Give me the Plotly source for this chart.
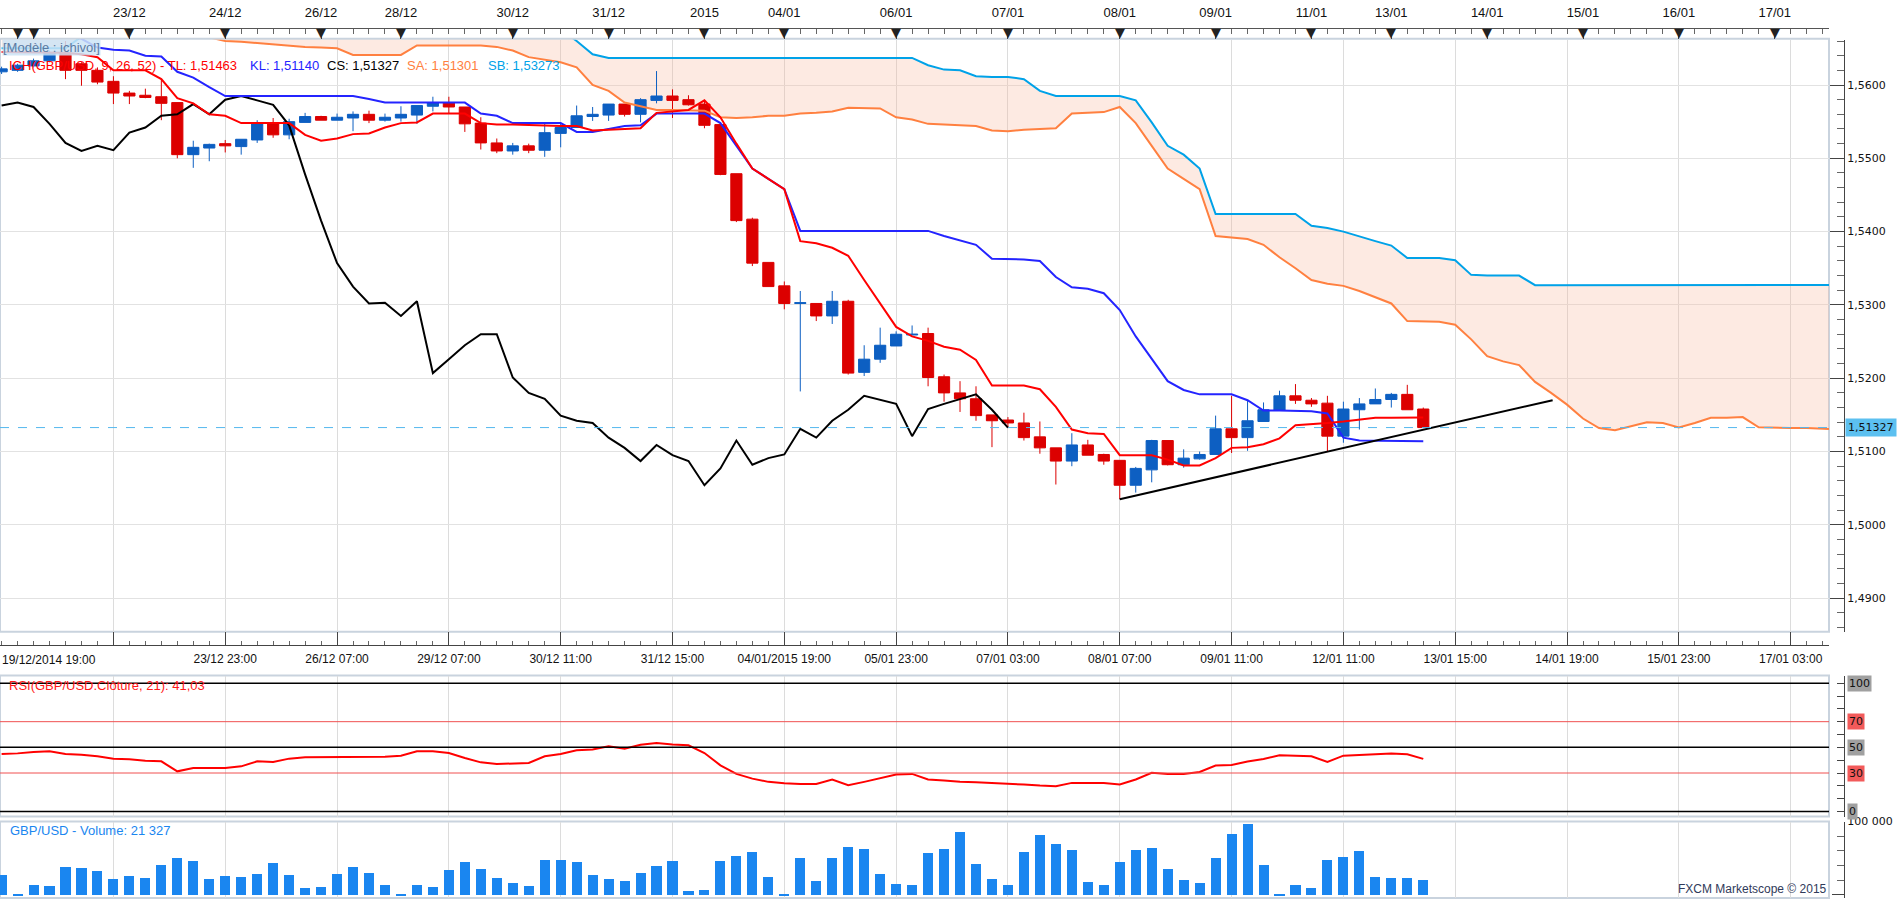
import plotly.graph_objects as go

# GBP/USD 4h bars, bar 0 = 19/12/2014 19:00, last bar = 13/01/2015 ~11:00
opens = [1.5618, 1.5620, 1.5626, 1.5633, 1.5644, 1.5629, 1.5620, 1.5605, 1.5589, 1.5586,
         1.5584, 1.5576, 1.5505, 1.5514, 1.5520, 1.5516, 1.5525, 1.5547, 1.5532, 1.5549,
         1.5557, 1.5552, 1.5555, 1.5560, 1.5552, 1.5555, 1.5559, 1.5571, 1.5576, 1.5570,
         1.5548, 1.5521, 1.5510, 1.5517, 1.5511, 1.5534, 1.5542, 1.5557, 1.5559, 1.5574,
         1.5560, 1.5579, 1.5585, 1.5580, 1.5574, 1.5546, 1.5479, 1.5417, 1.5358, 1.5326,
         1.5302, 1.5302, 1.5285, 1.5305, 1.5208, 1.5226, 1.5244, 1.5259, 1.5261, 1.5202,
         1.5180, 1.5172, 1.5150, 1.5143, 1.5139, 1.5120, 1.5105, 1.5087, 1.5109, 1.5096,
         1.5088, 1.5054, 1.5075, 1.5115, 1.5082, 1.5090, 1.5096, 1.5131, 1.5119, 1.5141,
         1.5156, 1.5176, 1.5170, 1.5166, 1.5121, 1.5157, 1.5165, 1.5171, 1.5178, 1.5158]
highs = [1.5625, 1.5629, 1.5636, 1.5647, 1.5660, 1.5631, 1.5624, 1.5612, 1.5592, 1.5595,
         1.5608, 1.5576, 1.5524, 1.5520, 1.5525, 1.5526, 1.5552, 1.5555, 1.5554, 1.5562,
         1.5558, 1.5561, 1.5564, 1.5565, 1.5561, 1.5571, 1.5572, 1.5584, 1.5584, 1.5570,
         1.5556, 1.5527, 1.5521, 1.5520, 1.5547, 1.5547, 1.5572, 1.5570, 1.5574, 1.5574,
         1.5582, 1.5619, 1.5594, 1.5586, 1.5579, 1.5546, 1.5479, 1.5419, 1.5358, 1.5332,
         1.5319, 1.5302, 1.5319, 1.5307, 1.5245, 1.5269, 1.5264, 1.5272, 1.5269, 1.5205,
         1.5196, 1.5189, 1.5150, 1.5147, 1.5153, 1.5141, 1.5105, 1.5125, 1.5116, 1.5097,
         1.5088, 1.5079, 1.5116, 1.5115, 1.5103, 1.5100, 1.5149, 1.5176, 1.5170, 1.5167,
         1.5183, 1.5192, 1.5173, 1.5176, 1.5168, 1.5173, 1.5186, 1.5180, 1.5191, 1.5160]
lows = [1.5615, 1.5618, 1.5624, 1.5631, 1.5608, 1.5599, 1.5601, 1.5574, 1.5574, 1.5582,
        1.5552, 1.5500, 1.5487, 1.5496, 1.5508, 1.5505, 1.5521, 1.5528, 1.5526, 1.5549,
        1.5552, 1.5552, 1.5537, 1.5548, 1.5550, 1.5550, 1.5547, 1.5564, 1.5561, 1.5536,
        1.5512, 1.5507, 1.5505, 1.5507, 1.5502, 1.5515, 1.5542, 1.5551, 1.5551, 1.5557,
        1.5549, 1.5575, 1.5555, 1.5572, 1.5541, 1.5477, 1.5413, 1.5353, 1.5325, 1.5294,
        1.5182, 1.5278, 1.5274, 1.5205, 1.5203, 1.5221, 1.5244, 1.5259, 1.5189, 1.5168,
        1.5154, 1.5142, 1.5106, 1.5132, 1.5115, 1.5097, 1.5055, 1.5080, 1.5095, 1.5082,
        1.5035, 1.5044, 1.5058, 1.5081, 1.5078, 1.5089, 1.5096, 1.5098, 1.5101, 1.5141,
        1.5156, 1.5165, 1.5161, 1.5100, 1.5112, 1.5130, 1.5165, 1.5160, 1.5157, 1.5132]
closes = [1.5622, 1.5627, 1.5633, 1.5644, 1.5620, 1.5620, 1.5604, 1.5589, 1.5585, 1.5583,
          1.5575, 1.5505, 1.5515, 1.5519, 1.5517, 1.5526, 1.5547, 1.5532, 1.5550, 1.5557,
          1.5552, 1.5556, 1.5560, 1.5552, 1.5556, 1.5560, 1.5572, 1.5576, 1.5570, 1.5547,
          1.5521, 1.5510, 1.5517, 1.5511, 1.5535, 1.5542, 1.5558, 1.5560, 1.5574, 1.5560,
          1.5580, 1.5585, 1.5579, 1.5573, 1.5545, 1.5478, 1.5415, 1.5357, 1.5325, 1.5302,
          1.5303, 1.5285, 1.5305, 1.5207, 1.5226, 1.5245, 1.5260, 1.5260, 1.5201, 1.5180,
          1.5172, 1.5149, 1.5142, 1.5139, 1.5119, 1.5105, 1.5087, 1.5109, 1.5095, 1.5087,
          1.5054, 1.5077, 1.5115, 1.5082, 1.5091, 1.5096, 1.5131, 1.5119, 1.5142, 1.5157,
          1.5176, 1.5170, 1.5165, 1.5121, 1.5158, 1.5165, 1.5171, 1.5178, 1.5157, 1.51327]

# ichimoku lines (tenkan = TL, kijun = KL)
tenkan = [1.5645, 1.5645, 1.5645, 1.5645, 1.5644, 1.5642, 1.5638, 1.5620, 1.5620, 1.5620,
          1.5608, 1.5582, 1.5575, 1.5560, 1.5558, 1.5548, 1.5548, 1.5548, 1.5548, 1.5532,
          1.5524, 1.5527, 1.5533, 1.5534, 1.5542, 1.5548, 1.5549, 1.5561, 1.5561, 1.5561,
          1.5548, 1.5546, 1.5546, 1.5545, 1.5545, 1.5544, 1.5544, 1.5538, 1.5539, 1.5540,
          1.5541, 1.5562, 1.5564, 1.5566, 1.5579, 1.5556, 1.5520, 1.5486, 1.5472, 1.5458,
          1.5387, 1.5384, 1.5378, 1.5367, 1.5334, 1.5302, 1.5270, 1.5257, 1.5251, 1.5243,
          1.5239, 1.5225, 1.5190, 1.5190, 1.5190, 1.5185, 1.5161, 1.5130, 1.5125, 1.5124,
          1.5095, 1.5095, 1.5095, 1.5089, 1.5081, 1.5081, 1.5091, 1.5105, 1.5106, 1.5110,
          1.5118, 1.5136, 1.5137, 1.5139, 1.5141, 1.5143, 1.5146, 1.5146, 1.5146, 1.51463]
kijun = [1.5668, 1.5668, 1.5668, 1.5668, 1.5668, 1.5663, 1.5651, 1.5648, 1.5647, 1.5640,
         1.5639, 1.5618, 1.5610, 1.5597, 1.5585, 1.5585, 1.5585, 1.5585, 1.5585, 1.5585,
         1.5585, 1.5585, 1.5585, 1.5581, 1.5576, 1.5576, 1.5576, 1.5576, 1.5576, 1.5576,
         1.5561, 1.5558, 1.5548, 1.5548, 1.5548, 1.5548, 1.5536, 1.5536, 1.5540, 1.5544,
         1.5545, 1.5561, 1.5561, 1.5561, 1.5561, 1.5548, 1.5517, 1.5486, 1.5472, 1.5458,
         1.5401, 1.5401, 1.5401, 1.5401, 1.5401, 1.5401, 1.5401, 1.5401, 1.5401, 1.5394,
         1.5388, 1.5382, 1.5363, 1.5363, 1.5362, 1.5360, 1.5338, 1.5324, 1.5322, 1.5316,
         1.5293, 1.5257, 1.5227, 1.5196, 1.5184, 1.5178, 1.5178, 1.5178, 1.5170, 1.5156,
         1.5156, 1.5156, 1.5155, 1.5152, 1.5119, 1.5115, 1.5115, 1.5115, 1.5115, 1.5114]
# senkou spans, projected 26 bars ahead (bars 0..115)
senkou_a = [1.5675, 1.5675, 1.5675, 1.5675, 1.5675, 1.5675, 1.5675, 1.5675, 1.5675, 1.5675,
            1.5675, 1.5675, 1.5675, 1.5665, 1.5660, 1.5659, 1.5657, 1.5655, 1.5654, 1.5652,
            1.5651, 1.5650, 1.5641, 1.5641, 1.5641, 1.5641, 1.5654, 1.5654, 1.5654, 1.5654,
            1.5654, 1.5652, 1.5647, 1.5638, 1.5634, 1.5631, 1.5624, 1.5600, 1.5592, 1.5576,
            1.5571, 1.5566, 1.5566, 1.5566, 1.5565, 1.5556, 1.5555, 1.5556, 1.5558, 1.5558,
            1.5561, 1.5562, 1.5564, 1.5569, 1.5569, 1.5568, 1.5556, 1.5553, 1.5547, 1.5546,
            1.5546, 1.5544, 1.5538, 1.5537, 1.5539, 1.5540, 1.5541, 1.5561, 1.5562, 1.5563,
            1.5570, 1.5548, 1.5517, 1.5486, 1.5472, 1.5458, 1.5394, 1.5392, 1.5390, 1.5382,
            1.5365, 1.5350, 1.5334, 1.5329, 1.5326, 1.5319, 1.5311, 1.5302, 1.5278, 1.5277,
            1.5277, 1.5273, 1.5253, 1.5230, 1.5223, 1.5218, 1.5195, 1.5180, 1.5164, 1.5145,
            1.5132, 1.5129, 1.5135, 1.5140, 1.5139, 1.5133, 1.5139, 1.5146, 1.5146, 1.5147,
            1.5133, 1.5132, 1.5132, 1.5132, 1.5131, 1.51301]
senkou_b = [1.5650, 1.5650, 1.5650, 1.5650, 1.5650, 1.5666, 1.5676, 1.5676, 1.5676, 1.5676,
            1.5676, 1.5676, 1.5676, 1.5676, 1.5676, 1.5676, 1.5676, 1.5676, 1.5676, 1.5676,
            1.5676, 1.5676, 1.5676, 1.5676, 1.5676, 1.5676, 1.5676, 1.5676, 1.5676, 1.5676,
            1.5676, 1.5676, 1.5676, 1.5676, 1.5676, 1.5676, 1.5660, 1.5642, 1.5637, 1.5637,
            1.5637, 1.5637, 1.5637, 1.5637, 1.5637, 1.5637, 1.5637, 1.5637, 1.5637, 1.5637,
            1.5637, 1.5637, 1.5637, 1.5637, 1.5637, 1.5637, 1.5637, 1.5637, 1.5627, 1.5621,
            1.5620, 1.5612, 1.5611, 1.5611, 1.5608, 1.5592, 1.5585, 1.5585, 1.5585, 1.5585,
            1.5585, 1.5579, 1.5549, 1.5517, 1.5505, 1.5486, 1.5424, 1.5424, 1.5424, 1.5424,
            1.5424, 1.5424, 1.5408, 1.5405, 1.5400, 1.5393, 1.5387, 1.5381, 1.5364, 1.5364,
            1.5364, 1.5361, 1.5341, 1.5340, 1.5340, 1.5340, 1.5327, 1.5327, 1.5327, 1.5327,
            1.5327, 1.5327, 1.5327, 1.5327, 1.5327, 1.5327, 1.5327, 1.5327, 1.5327, 1.5327,
            1.5327, 1.5327, 1.5327, 1.5327, 1.5327, 1.53273]

rsi = [44.8, 45.3, 46.4, 46.9, 44.8, 44.3, 43.0, 41.2, 40.7, 39.6,
       39.1, 31.3, 33.9, 33.9, 33.9, 35.2, 39.1, 38.6, 41.2, 42.2,
       42.2, 42.7, 42.7, 42.2, 42.7, 43.5, 46.9, 46.9, 45.6, 41.7,
       38.3, 37.0, 37.6, 37.8, 43.0, 44.8, 47.7, 48.4, 50.8, 49.0,
       52.1, 53.4, 52.3, 51.6, 45.6, 36.0, 29.3, 25.6, 23.1, 22.0,
       21.5, 21.5, 24.9, 20.5, 23.1, 26.2, 28.8, 29.3, 24.9, 24.1,
       23.1, 22.8, 22.3, 21.5, 21.0, 20.2, 19.7, 22.3, 22.3, 22.3,
       21.0, 24.9, 30.1, 29.3, 29.3, 30.8, 35.8, 36.3, 38.9, 40.9,
       43.8, 43.5, 43.0, 38.6, 43.5, 44.0, 44.8, 45.3, 44.6, 41.03]

volume = [28400, 1000, 14400, 13000, 38100, 36700, 32600, 22800, 27000, 24200,
          40900, 50700, 46500, 22800, 27000, 25600, 29800, 43700, 28400, 10200,
          11600, 29800, 38100, 31200, 14400, 1000, 14400, 11600, 34000, 45100,
          35300, 24200, 17200, 13000, 47900, 47900, 45100, 28400, 22800, 20000,
          31200, 39500, 46500, 6000, 7400, 46500, 53500, 59100, 25600, 1500,
          50700, 20000, 50700, 66000, 63300, 29800, 15800, 14400, 57700, 63300,
          87000, 42300, 22800, 14400, 59100, 82800, 70200, 61900, 18600, 14400,
          45100, 61900, 64700, 35300, 21400, 17200, 50700, 84200, 96700, 40900,
          1000, 14400, 10200, 47900, 52100, 60500, 25600, 24200, 24200, 21327]

# hand drawn support line (bar, price)
trend_x = [70, 97.1]
trend_y = [1.5035, 1.5170]

# time axis labels
bottom_ticks = [7, 14, 21, 28, 35, 42, 49, 56, 63, 70, 77, 84, 91, 98, 105, 112]
bottom_labels = ['', '23/12 23:00', '26/12 07:00', '29/12 07:00', '30/12 11:00', '31/12 15:00',
                 '04/01/2015 19:00', '05/01 23:00', '07/01 03:00', '08/01 07:00', '09/01 11:00',
                 '12/01 11:00', '13/01 15:00', '14/01 19:00', '15/01 23:00', '17/01 03:00']
day_ticks = [1, 2, 8, 14, 20, 25, 32, 38, 44, 49, 56, 63, 70, 76, 82, 87, 93, 99, 105, 111]
day_labels = ['', '', '23/12', '24/12', '26/12', '28/12', '30/12', '31/12', '2015', '04/01',
              '06/01', '07/01', '08/01', '09/01', '11/01', '13/01', '14/01', '15/01', '16/01', '17/01']

last_price = closes[-1]
bars = list(range(len(closes)))
ahead = list(range(len(senkou_a)))

W, H = 1903, 900
xr = [-0.1, 114.4]
xdom = [0, 1829 / W]
axis_pos = 1844 / W
main_rng = [1.48541, 1.56617]
rsi_rng = [-3.95, 106.0]
vol_rng = [-4200, 100000]

def py(px):  # pixel from top -> paper y
    return 1 - px / H

font = 'Liberation Sans, Arial, sans-serif'
axfont = 'DejaVu Sans, Verdana, sans-serif'

fig = go.Figure()

# cloud
fig.add_trace(go.Scatter(x=ahead, y=senkou_b, mode='lines', line=dict(width=0),
                         hoverinfo='skip', xaxis='x', yaxis='y'))
fig.add_trace(go.Scatter(x=ahead, y=senkou_a, mode='lines', line=dict(width=0), fill='tonexty',
                         fillcolor='rgba(248,185,160,0.30)', hoverinfo='skip', xaxis='x', yaxis='y'))

# candles + lines on overlay axis so they sit on top of the cloud
fig.add_trace(go.Candlestick(x=bars, open=opens, high=highs, low=lows, close=closes,
                             increasing=dict(line=dict(color='#0d5fc2', width=1), fillcolor='#0d5fc2'),
                             decreasing=dict(line=dict(color='#dc0000', width=1), fillcolor='#dc0000'),
                             whiskerwidth=0, xaxis='x', yaxis='y5'))
fig.add_trace(go.Scatter(x=ahead, y=senkou_a, mode='lines', line=dict(color='#ff8040', width=2),
                         xaxis='x', yaxis='y5'))
fig.add_trace(go.Scatter(x=ahead, y=senkou_b, mode='lines', line=dict(color='#00a2e8', width=2),
                         xaxis='x', yaxis='y5'))
fig.add_trace(go.Scatter(x=bars[:len(closes) - 26], y=closes[26:], mode='lines',
                         line=dict(color='#000000', width=2), xaxis='x', yaxis='y5'))
fig.add_trace(go.Scatter(x=bars, y=kijun, mode='lines', line=dict(color='#2424ff', width=2),
                         xaxis='x', yaxis='y5'))
fig.add_trace(go.Scatter(x=bars, y=tenkan, mode='lines', line=dict(color='#ff0000', width=2),
                         xaxis='x', yaxis='y5'))
fig.add_trace(go.Scatter(x=trend_x, y=trend_y, mode='lines', line=dict(color='#000000', width=2),
                         xaxis='x', yaxis='y5'))

# keeps the top date axis alive
fig.add_trace(go.Scatter(x=day_ticks, y=[None] * len(day_ticks), mode='markers',
                         hoverinfo='skip', xaxis='x2', yaxis='y'))

# RSI
fig.add_trace(go.Scatter(x=bars, y=rsi, mode='lines', line=dict(color='#ff0000', width=2),
                         xaxis='x', yaxis='y3'))

# volume
fig.add_trace(go.Bar(x=bars, y=volume, width=0.63, marker=dict(color='#1a86f0', line=dict(width=0)),
                     xaxis='x', yaxis='y4'))

shapes = []
# panel frames
for top, bot in [(33, 630), (674, 816), (821, 898)]:
    shapes.append(dict(type='rect', xref='paper', yref='paper', x0=0, x1=xdom[1], y0=py(bot), y1=py(top),
                       line=dict(color='#c9d3de', width=2), layer='below'))
# RSI levels
for lvl, col in [(100, '#000000'), (70, '#f05050'), (50, '#000000'), (30, '#f05050'), (0, '#000000')]:
    shapes.append(dict(type='line', xref='paper', yref='y3', x0=0, x1=xdom[1], y0=lvl, y1=lvl,
                       line=dict(color=col, width=1.5 if col == '#000000' else 1)))
# last price
shapes.append(dict(type='line', xref='paper', yref='y', x0=0, x1=xdom[1], y0=last_price, y1=last_price,
                   line=dict(color='#55b8ee', width=1, dash='dash'), layer='above'))

ann = []
# day markers on the top axis
for d in day_ticks:
    ann.append(dict(text='▼', x=d, y=py(26.5), xref='x', yref='paper', xanchor='center',
                    yanchor='middle', showarrow=False,
                    font=dict(family=axfont, size=13, color='#222222')))
ann.append(dict(text='[Modèle : ichivol]', x=0.001, y=py(42), xref='paper', yref='paper',
                xanchor='left', yanchor='middle', showarrow=False, bgcolor='rgba(205,228,246,0.85)',
                font=dict(family=font, size=13, color='#5b7aa2'), borderpad=0))
for txt, xpx, col in [('ICH(GBP/USD, 9, 26, 52) - TL: 1,51463', 7, '#ff0000'),
                      ('KL: 1,51140', 248, '#2424ff'), ('CS: 1,51327', 325, '#000000'),
                      ('SA: 1,51301', 405, '#ff8040'), ('SB: 1,53273', 486, '#00a2e8')]:
    ann.append(dict(text=txt, x=xpx / W, y=py(60), xref='paper', yref='paper', xanchor='left',
                    yanchor='middle', showarrow=False, font=dict(family=font, size=13, color=col)))
ann.append(dict(text='19/12/2014 19:00', x=0, y=py(658), xref='paper', yref='paper', xanchor='left',
                yanchor='middle', showarrow=False, font=dict(family=font, size=12, color='#111111')))
ann.append(dict(text='RSI(GBP/USD.Clôture, 21): 41,03', x=7 / W, y=py(684), xref='paper', yref='paper',
                xanchor='left', yanchor='middle', showarrow=False,
                font=dict(family=font, size=13, color='#ff1a1a')))
ann.append(dict(text='GBP/USD - Volume: 21 327', x=8 / W, y=py(830), xref='paper', yref='paper',
                xanchor='left', yanchor='middle', showarrow=False,
                font=dict(family=font, size=13, color='#1a86f0')))
ann.append(dict(text='FXCM Marketscope © 2015', x=xdom[1], y=py(889), xref='paper', yref='paper',
                xanchor='right', yanchor='middle', showarrow=False,
                font=dict(family=font, size=12, color='#303a5a')))
ann.append(dict(text='1,51327', x=1845 / W, y=last_price, xref='paper', yref='y', xanchor='left',
                yanchor='middle', showarrow=False, bgcolor='#5cc0f0', borderpad=2,
                font=dict(family=axfont, size=11, color='#111111')))
for lvl, bg in [(100, '#a0a0a0'), (70, '#f25a5a'), (50, '#a0a0a0'), (30, '#f25a5a'), (0, '#a0a0a0')]:
    ann.append(dict(text=str(lvl), x=1847 / W, y=lvl, xref='paper', yref='y3', xanchor='left',
                    yanchor='middle', showarrow=False, bgcolor=bg, borderpad=1,
                    font=dict(family=axfont, size=11, color='#111111')))

fig.update_layout(
    width=W, height=H, margin=dict(l=0, r=0, t=0, b=0),
    paper_bgcolor='white', plot_bgcolor='white', showlegend=False,
    separators=', ', boxgap=0.3, boxgroupgap=0, bargap=0,
    xaxis=dict(domain=xdom, range=xr, anchor='free', position=py(643), side='bottom',
               tickmode='array', tickvals=bottom_ticks, ticktext=bottom_labels,
               ticks='inside', ticklen=13, tickcolor='#444444', ticklabelstandoff=3,
               showline=True, linecolor='#444444', linewidth=1,
               showgrid=True, gridcolor='#dcdcdc', gridwidth=1, zeroline=False,
               minor=dict(tickmode='linear', tick0=0, dtick=1, ticklen=4, ticks='inside',
                          tickcolor='#666666', showgrid=False),
               tickfont=dict(family=font, size=12, color='#111111'),
               rangeslider=dict(visible=False)),
    xaxis2=dict(domain=xdom, range=xr, overlaying='x', anchor='free', position=py(22), side='top',
                tickmode='array', tickvals=day_ticks, ticktext=day_labels, ticklabelstandoff=6,
                ticks='inside', ticklen=10, tickcolor='#444444', showline=True, linecolor='#555555',
                showgrid=False, zeroline=False,
                minor=dict(tickmode='linear', tick0=0, dtick=1, ticklen=5, ticks='inside',
                           tickcolor='#666666', showgrid=False),
                tickfont=dict(family=font, size=13, color='#111111')),
    yaxis=dict(domain=[py(630), py(34)], range=main_rng, anchor='free', position=axis_pos, side='right',
               tickmode='linear', tick0=1.49, dtick=0.01, tickformat='.4f',
               ticks='inside', ticklen=14, tickcolor='#444444', showline=True, linecolor='#444444',
               showgrid=True, gridcolor='#e2e2e2', zeroline=False,
               minor=dict(dtick=0.002, ticklen=7, ticks='inside', tickcolor='#666666', showgrid=False),
               tickfont=dict(family=axfont, size=11, color='#111111')),
    yaxis5=dict(range=main_rng, overlaying='y', anchor='x', visible=False, showgrid=False),
    yaxis3=dict(domain=[py(816), py(674)], range=rsi_rng, anchor='free', position=axis_pos, side='right',
                tickmode='linear', tick0=0, dtick=10, ticks='inside', ticklen=7, tickcolor='#444444',
                showticklabels=False, showline=True, linecolor='#444444', showgrid=False, zeroline=False),
    yaxis4=dict(domain=[py(898), py(821)], range=vol_rng, anchor='free', position=axis_pos, side='right',
                tickmode='array', tickvals=[0, 100000], ticktext=['0', '100 000'],
                ticks='inside', ticklen=12, tickcolor='#444444', showline=True, linecolor='#444444',
                showgrid=False, zeroline=False,
                minor=dict(tickmode='linear', tick0=0, dtick=20000, ticklen=7, ticks='inside',
                           tickcolor='#666666', showgrid=False),
                tickfont=dict(family=axfont, size=11, color='#111111')),
    shapes=shapes, annotations=ann,
)

fig.write_html('out.html', config={'displayModeBar': False},
               post_script="document.body.style.margin='0px';document.body.style.overflow='hidden';")
